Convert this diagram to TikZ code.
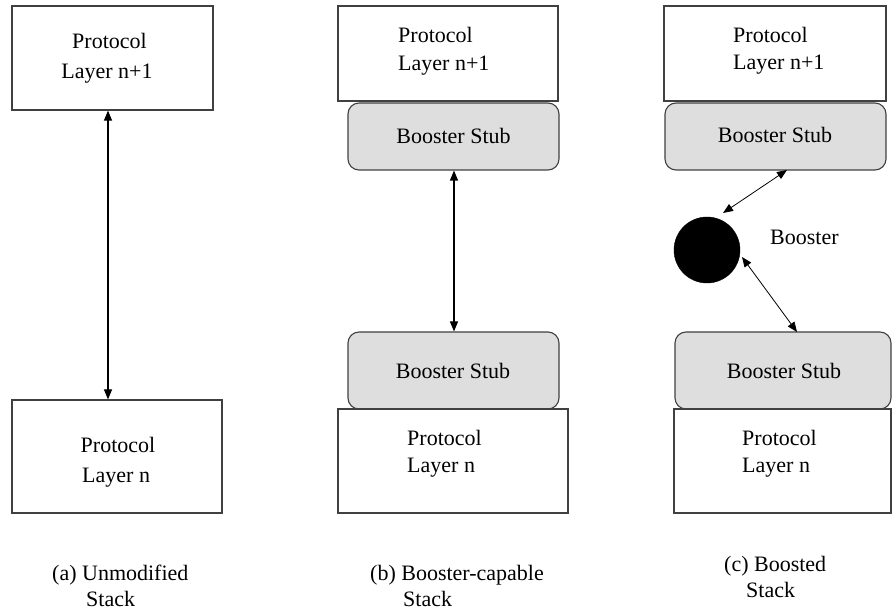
\documentclass[tikz,border=0pt]{standalone}
\usepackage{fontspec}
\setmainfont{Liberation Serif}
\usetikzlibrary{arrows.meta}
\begin{document}
\begin{tikzpicture}[x=1pt,y=-1pt,
  layerbox/.style={draw=black!75,line width=1.2pt,fill=white,rectangle,inner sep=0pt},
  stubbox/.style={draw=black!75,line width=1.1pt,fill=black!13,rectangle,rounded corners=11pt,inner sep=0pt},
  txt/.style={font=\fontsize{22}{26}\selectfont,inner sep=0pt},
  dbl/.style={line width=1.1pt,{Triangle[length=10pt,width=8pt]}-{Triangle[length=10pt,width=8pt]}},
  dblthin/.style={line width=0.8pt,{Triangle[length=10pt,width=8pt]}-{Triangle[length=10pt,width=8pt]}}]
\useasboundingbox (0,0) rectangle (892,612);
% ---------- (a)
\node[layerbox,minimum width=201pt,minimum height=104pt] (a1) at (112.5,58) {};
\node[layerbox,minimum width=210pt,minimum height=113pt] (a2) at (117,456.5) {};
\node[txt,anchor=base] (a1t1) at (109.5,49) {Protocol};
\node[txt,anchor=base] (a1t2) at (107,79) {Layer n+1};
\node[txt,anchor=base] (a2t1) at (118,452) {Protocol};
\node[txt,anchor=base west] (a2t2) at (82,482) {Layer n};
\coordinate (ax) at (108,0);
\draw[dbl] (ax |- a1.south) -- (ax |- a2.north);
\node[txt,anchor=base west] (capa1) at (52,580) {(a) Unmodified};
\node[txt,anchor=base west] (capa2) at (86,606) {Stack};
% ---------- (b)
\node[layerbox,minimum width=220pt,minimum height=95pt] (b1) at (448,53.5) {};
\node[stubbox,minimum width=211pt,minimum height=67pt] (bs1) at (453.5,136.5) {};
\node[stubbox,minimum width=211pt,minimum height=77pt] (bs2) at (453.5,370.5) {};
\node[layerbox,minimum width=230pt,minimum height=104pt] (b2) at (453,461) {};
\node[txt,anchor=base west] (b1t1) at (398,43) {Protocol};
\node[txt,anchor=base west] (b1t2) at (398,71) {Layer n+1};
\node[txt,anchor=base] (bs1t) at (453.5,144) {Booster Stub};
\node[txt,anchor=base] (bs2t) at (453,379) {Booster Stub};
\node[txt,anchor=base west] (b2t1) at (407,446) {Protocol};
\node[txt,anchor=base west] (b2t2) at (407,472) {Layer n};
\coordinate (bx) at (454,0);
\draw[dbl] (bx |- bs1.south) -- (bx |- bs2.north);
\node[txt,anchor=base west] (capb1) at (370,580) {(b) Booster-capable};
\node[txt,anchor=base west] (capb2) at (403,606) {Stack};
% ---------- (c)
\node[layerbox,minimum width=222pt,minimum height=95pt] (c1) at (775,53.5) {};
\node[stubbox,minimum width=221pt,minimum height=67pt] (cs1) at (775.5,136.5) {};
\node[stubbox,minimum width=216pt,minimum height=77pt] (cs2) at (783,370.5) {};
\node[layerbox,minimum width=217pt,minimum height=104pt] (c2) at (782.5,461) {};
\node[txt,anchor=base west] (c1t1) at (733,43) {Protocol};
\node[txt,anchor=base west] (c1t2) at (733,70) {Layer n+1};
\node[txt,anchor=base] (cs1t) at (775,143) {Booster Stub};
\node[txt,anchor=base] (cs2t) at (784,379) {Booster Stub};
\node[txt,anchor=base west] (c2t1) at (742,446) {Protocol};
\node[txt,anchor=base west] (c2t2) at (742,472) {Layer n};
\node[circle,fill=black,draw=black,minimum size=66pt,inner sep=0pt] (boost) at (707,250) {};
\node[txt,anchor=base west] (boostt) at (770,245) {Booster};
\coordinate (p1) at (787,170);
\coordinate (p2) at (723,213);
\coordinate (p3) at (742,257);
\coordinate (p4) at (797,332);
\draw[dblthin] (p1) -- (p2);
\draw[dblthin] (p3) -- (p4);
\node[txt,anchor=base west] (capc1) at (724,571) {(c) Boosted};
\node[txt,anchor=base west] (capc2) at (746,597) {Stack};
\end{tikzpicture}
\end{document}
